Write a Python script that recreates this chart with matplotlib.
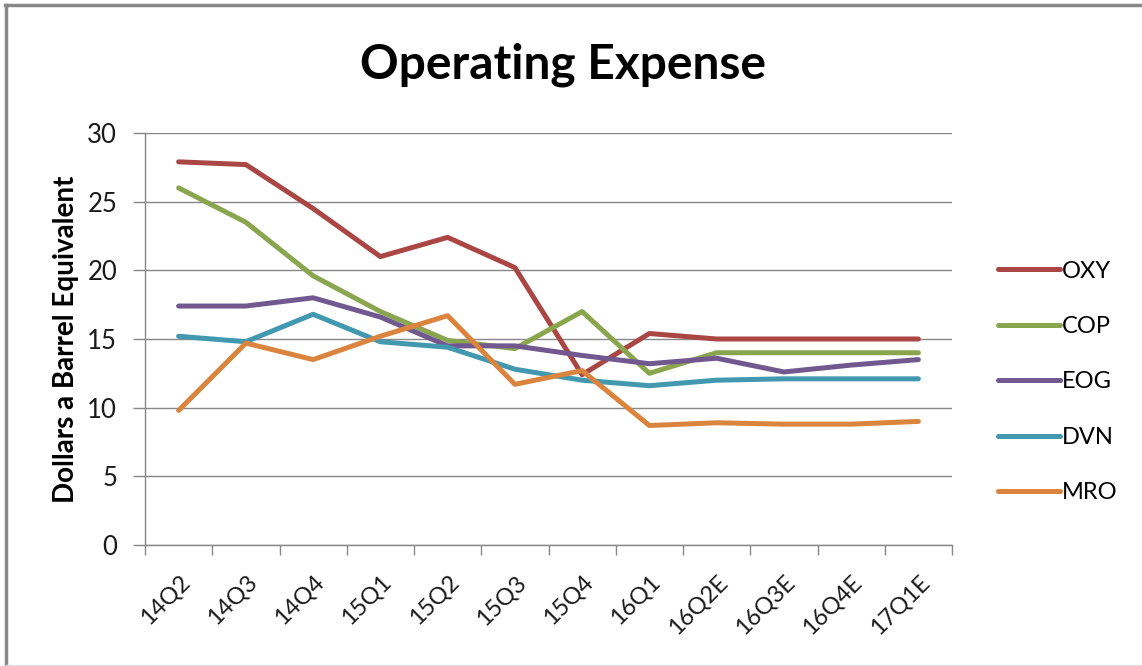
import matplotlib
matplotlib.use("Agg")
import matplotlib.pyplot as plt
from matplotlib.lines import Line2D
import numpy as np

categories = ["14Q2", "14Q3", "14Q4", "15Q1", "15Q2", "15Q3", "15Q4", "16Q1",
              "16Q2E", "16Q3E", "16Q4E", "17Q1E"]
oxy = [27.9, 27.7, 24.5, 21.0, 22.4, 20.2, 12.4, 15.4, 15.0, 15.0, 15.0, 15.0]
cop = [26.0, 23.5, 19.6, 17.0, 14.9, 14.3, 17.0, 12.5, 14.0, 14.0, 14.0, 14.0]
eog = [17.4, 17.4, 18.0, 16.6, 14.5, 14.5, 13.8, 13.2, 13.6, 12.6, 13.1, 13.5]
dvn = [15.2, 14.8, 16.8, 14.8, 14.4, 12.8, 12.0, 11.6, 12.0, 12.1, 12.1, 12.1]
mro = [9.8, 14.7, 13.5, 15.2, 16.7, 11.7, 12.7, 8.7, 8.9, 8.8, 8.8, 9.0]
series_names = ["OXY", "COP", "EOG", "DVN", "MRO"]
colors = ["#AA4643", "#89A54E", "#71588F", "#4198AF", "#DB843D"]
yticks = [0, 5, 10, 15, 20, 25, 30]

plt.rcParams['font.family'] = ['Lato', 'DejaVu Sans']

fig = plt.figure(figsize=(11.42, 6.66), dpi=100)
ax = fig.add_axes([145/1142, 1-545/666, (952-145)/1142, (545-133)/666])

x = np.arange(len(categories))
for name, vals, c in zip(series_names, [oxy, cop, eog, dvn, mro], colors):
    ax.plot(x, vals, color=c, lw=3.6, solid_capstyle='round', solid_joinstyle='round', label=name)

ax.set_xlim(-0.5, len(categories) - 0.5)
ax.set_ylim(0, 30)
ax.set_yticks(yticks)
ax.set_yticklabels([str(v) for v in yticks], fontsize=18.5, color="#1a1a1a")
ax.set_xticks(x)
ax.set_xticklabels(categories, rotation=45, ha='right', rotation_mode='anchor',
                   fontsize=17, color="#1a1a1a")
ax.xaxis.set_tick_params(length=0, pad=19)
ax.set_xticks(np.arange(-0.5, len(categories)), minor=True)
ax.tick_params(axis='x', which='minor', length=7, color='#888888', width=1, direction='out')
ax.tick_params(axis='y', length=9, color='#888888', width=1, direction='out', pad=11)

ax.grid(axis='y', color='#888888', lw=1)
ax.set_axisbelow(True)
for s in ['top', 'right']:
    ax.spines[s].set_visible(False)
for s in ['left', 'bottom']:
    ax.spines[s].set_color('#888888')
    ax.spines[s].set_linewidth(1)

ax.set_ylabel("Dollars a Barrel Equivalent", fontsize=20, fontweight='bold', labelpad=6)

fig.text(563/1142, 1-65/666, "Operating Expense", fontsize=34.5, fontweight='bold',
         ha='center', va='center')

handles = [Line2D([0], [0], color=c, lw=3.6, solid_capstyle='round') for c in colors]
fig.legend(handles, series_names, loc='center left', bbox_to_anchor=(977/1142, 1-382/666),
           frameon=False, fontsize=17, handlelength=2.6, handletextpad=0.1,
           labelspacing=1.46)

# chart border
fig.add_artist(Line2D([5/1142, 1], [1-5/666, 1-5/666], color='#888888', lw=2.5,
                      transform=fig.transFigure))
fig.add_artist(Line2D([6/1142, 6/1142], [1-5/666, 0], color='#888888', lw=2.5,
                      transform=fig.transFigure))
fig.add_artist(Line2D([6/1142, 1], [1.5/666, 1.5/666], color='#e0e0e0', lw=1,
                      transform=fig.transFigure))

fig.savefig("out.png", dpi=100)
